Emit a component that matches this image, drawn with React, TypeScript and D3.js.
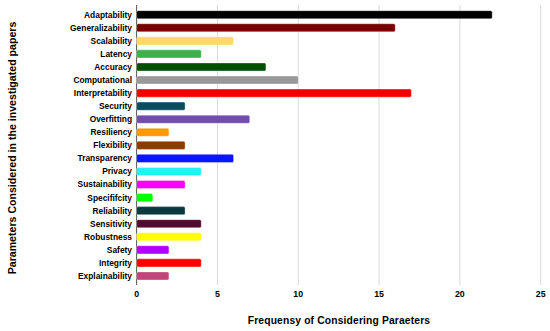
import React from "react";
import * as d3 from "d3";

const categories = [
  "Adaptability", "Generalizability", "Scalability", "Latency", "Accuracy",
  "Computational", "Interpretability", "Security", "Overfitting", "Resiliency",
  "Flexibility", "Transparency", "Privacy", "Sustainability", "Specififcity",
  "Reliability", "Sensitivity", "Robustness", "Safety", "Integrity", "Explainability",
];
const values = [22, 16, 6, 4, 8, 10, 17, 3, 7, 2, 3, 6, 4, 3, 1, 3, 4, 4, 2, 4, 2];
const colors = [
  "#000000", "#780000", "#ffd966", "#3cb04a", "#034f00", "#999999", "#f20000",
  "#0b4c5c", "#704cae", "#ff9900", "#8a3c00", "#0a14ff", "#22f2f2", "#ff00ff",
  "#00ff00", "#0b3a3c", "#540a2e", "#ffff00", "#b000ff", "#ff0000", "#c2457a",
];
const xTicks = [0, 5, 10, 15, 20, 25];
const xTitle = "Frequensy of Considering Paraeters";
const yTitle = "Parameters Considered in the investigated papers";

export default function App() {
  const W = 550, H = 331;
  const x = d3.scaleLinear().domain([0, 25]).range([136.6, 540.7]);
  const y = d3.scaleBand<string>().domain(categories).range([8.2, 282.5]).paddingInner(0.38).paddingOuter(0.19);
  const font = "Arial, 'Liberation Sans', sans-serif";
  return (
    <svg width={W} height={H} style={{ position: "absolute", left: 0, top: 0, background: "#fff" }}>
      {xTicks.map((t) => (
        <line key={"g" + t} x1={x(t)} x2={x(t)} y1={5} y2={285} stroke="#d9d9d9" strokeWidth={1} />
      ))}
      <line x1={x(0)} x2={x(0)} y1={5} y2={285} stroke="#595959" strokeWidth={1} />
      {categories.map((c, i) => (
        <rect key={c} x={x(0)} y={y(c)} width={x(values[i]) - x(0)} height={y.bandwidth()}
          fill={colors[i]} stroke="#ffffff" strokeOpacity={0.6} strokeWidth={0.6} rx={1.5} />
      ))}
      {categories.map((c) => (
        <text key={"l" + c} x={132} y={(y(c) as number) + y.bandwidth() / 2} dy="0.35em"
          textAnchor="end" fontFamily={font} fontWeight="bold" fontSize={8.4} fill="#000">{c}</text>
      ))}
      {xTicks.map((t) => (
        <text key={"t" + t} x={x(t)} y={297} textAnchor="middle" fontFamily={font}
          fontWeight="bold" fontSize={8.8} fill="#000">{t}</text>
      ))}
      <text x={339} y={324} textAnchor="middle" fontFamily={font} fontWeight="bold" fontSize={10.3}
        letterSpacing={0.15} fill="#000">{xTitle}</text>
      <text transform="translate(16,148) rotate(-90)" textAnchor="middle" fontFamily={font}
        fontWeight="bold" fontSize={10.6} fill="#000">{yTitle}</text>
    </svg>
  );
}
